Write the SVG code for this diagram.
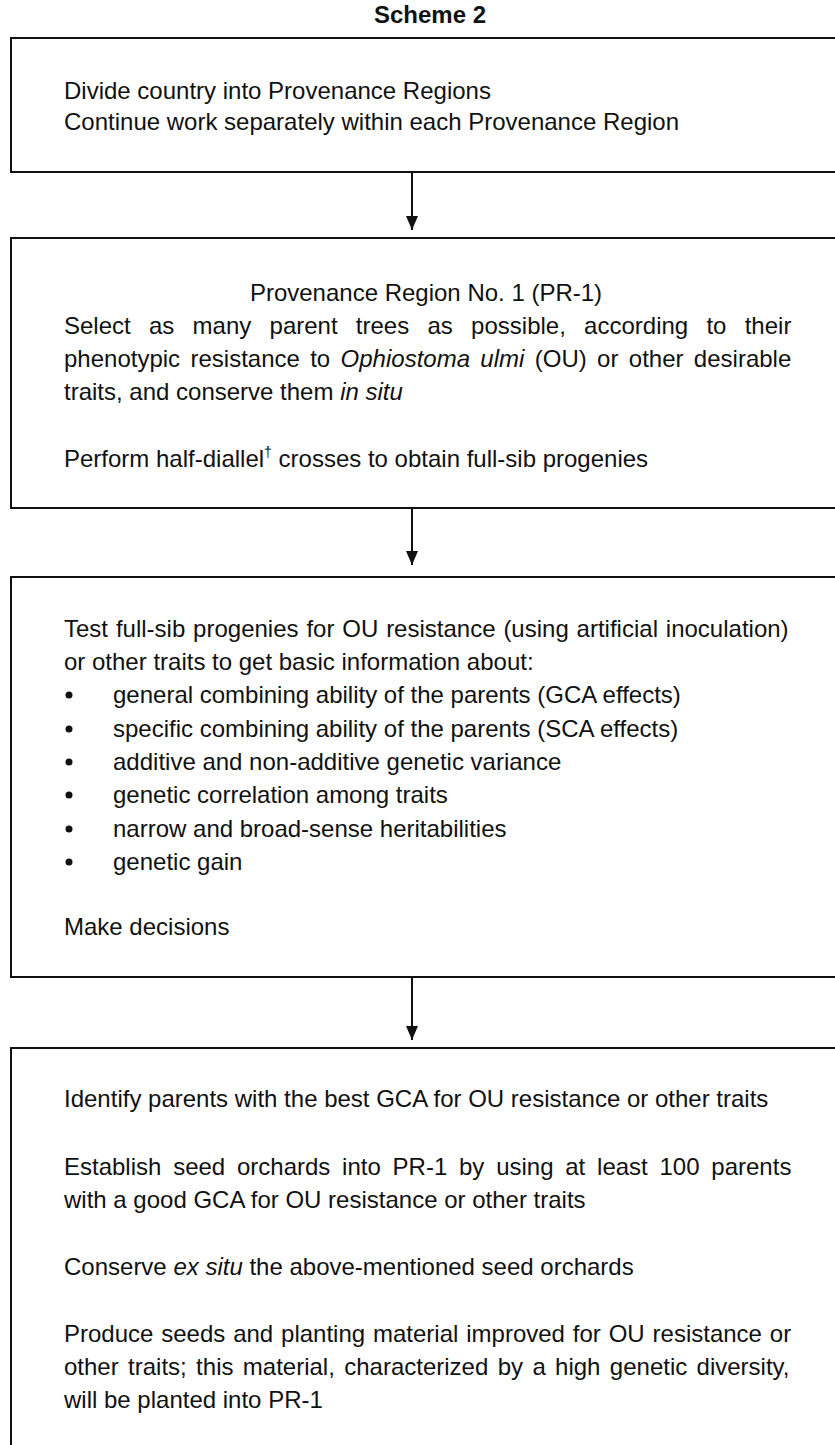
<svg xmlns="http://www.w3.org/2000/svg" width="835" height="1445" viewBox="0 0 835 1445">
<defs>
<style>
.box{fill:#fff;stroke:#111;stroke-width:2}
.t{font-family:"Liberation Sans",Arial,sans-serif;font-size:24px;fill:#111}
.ttl{font-family:"Liberation Sans",Arial,sans-serif;font-size:24px;font-weight:bold;fill:#111}
.i{font-style:italic}
.sup{font-size:14px;fill:#111}
.conn{stroke:#111;stroke-width:2;fill:none}
.dot{fill:#111}
</style>
<marker id="ah" viewBox="0 0 14 12" refX="14" refY="6" markerWidth="14" markerHeight="12" markerUnits="userSpaceOnUse" orient="auto">
<path d="M0,0 L14,6 L0,12 Z" fill="#111"/>
</marker>
</defs>
<rect width="835" height="1445" fill="#fff"/>
<text class="ttl" x="430" y="23" text-anchor="middle">Scheme 2</text>
<g id="node1">
<rect class="box" x="11" y="38" width="900" height="134"/>
<text class="t" x="64" y="99">Divide country into Provenance Regions</text>
<text class="t" x="64" y="130">Continue work separately within each Provenance Region</text>
</g>
<g id="node2">
<rect class="box" x="11" y="238" width="900" height="270"/>
<text class="t" x="426" y="301" text-anchor="middle">Provenance Region No. 1 (PR-1)</text>
<text class="t" x="64" y="334" word-spacing="11.6">Select as many parent trees as possible, according to their</text>
<text class="t" x="64" y="367" word-spacing="3.7">phenotypic resistance to <tspan class="i">Ophiostoma ulmi</tspan> (OU) or other desirable</text>
<text class="t" x="64" y="400">traits, and conserve them <tspan class="i">in situ</tspan></text>
<text class="t" x="64" y="467">Perform half-diallel<tspan class="sup" dy="-10">†</tspan><tspan dy="10"> crosses to obtain full-sib progenies</tspan></text>
</g>
<g id="node3">
<rect class="box" x="11" y="577" width="900" height="400"/>
<text class="t" x="64" y="637" word-spacing="1.2">Test full-sib progenies for OU resistance (using artificial inoculation)</text>
<text class="t" x="64" y="670">or other traits to get basic information about:</text>
<circle class="dot" cx="69" cy="695" r="3.5"/>
<text class="t" x="113" y="703">general combining ability of the parents (GCA effects)</text>
<circle class="dot" cx="69" cy="729" r="3.5"/>
<text class="t" x="113" y="737">specific combining ability of the parents (SCA effects)</text>
<circle class="dot" cx="69" cy="762" r="3.5"/>
<text class="t" x="113" y="770">additive and non-additive genetic variance</text>
<circle class="dot" cx="69" cy="795" r="3.5"/>
<text class="t" x="113" y="803">genetic correlation among traits</text>
<circle class="dot" cx="69" cy="829" r="3.5"/>
<text class="t" x="113" y="837">narrow and broad-sense heritabilities</text>
<circle class="dot" cx="69" cy="862" r="3.5"/>
<text class="t" x="113" y="870">genetic gain</text>
<text class="t" x="64" y="935">Make decisions</text>
</g>
<g id="node4">
<rect class="box" x="11" y="1048" width="900" height="420"/>
<text class="t" x="64" y="1107">Identify parents with the best GCA for OU resistance or other traits</text>
<text class="t" x="64" y="1175" word-spacing="5.1">Establish seed orchards into PR-1 by using at least 100 parents</text>
<text class="t" x="64" y="1208">with a good GCA for OU resistance or other traits</text>
<text class="t" x="64" y="1275">Conserve <tspan class="i">ex situ</tspan> the above-mentioned seed orchards</text>
<text class="t" x="64" y="1342" word-spacing="1.2">Produce seeds and planting material improved for OU resistance or</text>
<text class="t" x="64" y="1375" word-spacing="2.7">other traits; this material, characterized by a high genetic diversity,</text>
<text class="t" x="64" y="1408">will be planted into PR-1</text>
</g>
<g id="connectors">
<line class="conn" x1="412" y1="172" x2="412" y2="230" marker-end="url(#ah)"/>
<line class="conn" x1="412" y1="508" x2="412" y2="565" marker-end="url(#ah)"/>
<line class="conn" x1="412" y1="977" x2="412" y2="1040" marker-end="url(#ah)"/>
</g>
</svg>
